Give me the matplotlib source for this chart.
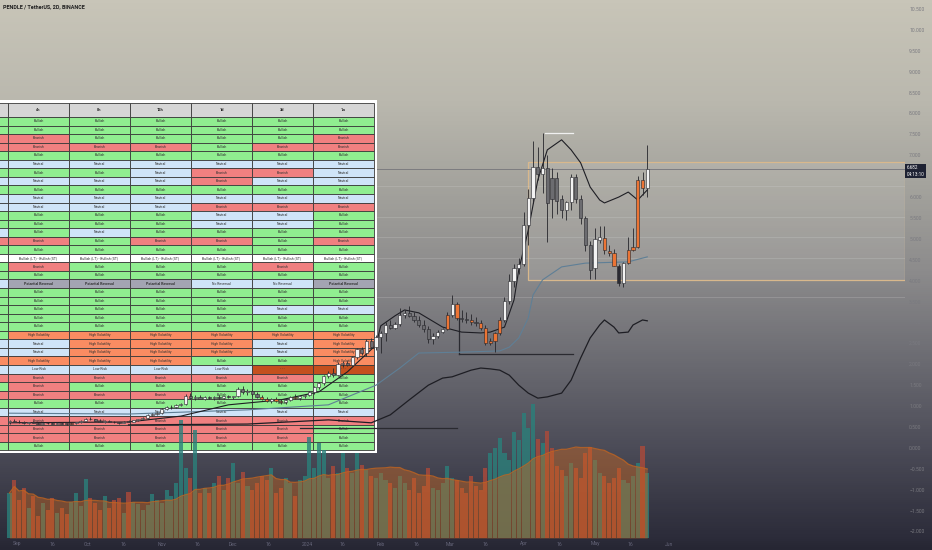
import numpy as np
import pandas as pd
import matplotlib
matplotlib.use("Agg")
import matplotlib.pyplot as plt
from matplotlib.colors import LinearSegmentedColormap
from matplotlib.patches import Rectangle

plt.rcParams['font.family'] = ['Roboto', 'DejaVu Sans']

# ---------------- data ----------------
title = "PENDLE / TetherUS, 2D, BINANCE"
last_price = 6.682
countdown = "04:13:10"

# 2D candles, day offsets from 2024-01-01
first_day = -125
opens = [.62, .64, .63, .61, .60, .62, .60, .58, .60, .59,
         .58, .60, .58, .57, .60, .61, .65, .70, .68, .65,
         .63, .64, .62, .61, .60, .63, .62, .66, .69, .72,
         .78, .82, .84, .93, .97, .99, 1.03, 1.05, 1.25, 1.20,
         1.22, 1.18, 1.21, 1.19, 1.22, 1.20, 1.23, 1.21, 1.24, 1.40,
         1.33, 1.35, 1.28, 1.22, 1.16, 1.12, 1.17, 1.13, 1.10, 1.15,
         1.22, 1.19, 1.24, 1.27, 1.34, 1.45, 1.55, 1.72, 1.80, 1.75,
         2.00, 2.02, 1.98, 2.17, 2.36, 2.26, 2.55, 2.42, 2.65, 2.75,
         2.93, 2.88, 2.97, 3.18, 3.22, 3.15, 3.05, 2.95, 2.85, 2.60,
         2.68, 2.78, 2.84, 3.18, 3.45, 3.10, 3.09, 3.06, 3.00, 2.98,
         2.87, 2.52, 2.55, 2.75, 3.05, 3.52, 4.00, 4.30, 4.40, 5.33,
         5.98, 6.72, 6.55, 6.70, 6.45, 6.45, 5.95, 5.68, 5.88, 6.48,
         5.95, 5.50, 4.85, 4.30, 4.98, 5.02, 4.72, 4.67, 4.35, 3.95,
         4.42, 4.73, 4.80, 6.41, 6.22]
highs = [.66, .68, .66, .64, .63, .64, .62, .62, .63, .61,
         .61, .62, .60, .61, .62, .66, .72, .73, .70, .68,
         .66, .67, .65, .63, .64, .66, .67, .70, .74, .80,
         .84, .86, .95, 1.00, 1.02, 1.05, 1.08, 1.30, 1.32, 1.27,
         1.26, 1.24, 1.25, 1.24, 1.26, 1.25, 1.27, 1.25, 1.45, 1.48,
         1.40, 1.38, 1.33, 1.27, 1.22, 1.20, 1.22, 1.18, 1.17, 1.24,
         1.28, 1.25, 1.30, 1.36, 1.48, 1.58, 1.75, 1.85, 1.92, 2.05,
         2.08, 2.08, 2.20, 2.40, 2.42, 2.60, 2.62, 2.70, 2.80, 3.00,
         3.05, 3.00, 3.35, 3.30, 3.40, 3.25, 3.15, 3.05, 2.92, 2.75,
         2.82, 2.88, 3.25, 3.65, 3.50, 3.30, 3.25, 3.20, 3.12, 3.05,
         2.95, 2.62, 2.78, 3.12, 3.62, 4.15, 4.40, 4.55, 5.65, 6.20,
         7.35, 7.20, 7.53, 7.00, 6.70, 6.60, 6.05, 5.90, 6.55, 6.55,
         6.05, 5.55, 4.95, 5.25, 5.30, 5.30, 4.85, 4.75, 4.40, 4.45,
         5.05, 5.25, 6.50, 6.60, 7.25]
lows = [.58, .61, .60, .58, .57, .59, .57, .56, .58, .56,
        .56, .57, .55, .56, .58, .60, .64, .66, .64, .62,
        .60, .61, .59, .58, .59, .61, .61, .64, .67, .70,
        .76, .79, .82, .90, .94, .96, 1.00, 1.03, 1.17, 1.15,
        1.16, 1.14, 1.17, 1.15, 1.18, 1.16, 1.19, 1.17, 1.22, 1.30,
        1.26, 1.25, 1.20, 1.14, 1.10, 1.08, 1.10, 1.06, 1.06, 1.12,
        1.16, 1.14, 1.20, 1.24, 1.30, 1.42, 1.50, 1.66, 1.70, 1.72,
        1.93, 1.95, 1.95, 2.12, 2.22, 2.20, 2.38, 2.35, 2.28, 2.55,
        2.85, 2.85, 2.92, 3.10, 3.12, 3.02, 2.90, 2.78, 2.52, 2.48,
        2.62, 2.74, 2.82, 3.12, 3.05, 3.00, 2.98, 2.95, 2.92, 2.82,
        2.45, 2.45, 2.30, 2.70, 3.00, 3.45, 3.85, 4.15, 4.35, 4.85,
        5.85, 6.40, 6.10, 4.93, 5.50, 5.60, 5.50, 5.45, 5.70, 5.85,
        5.35, 4.70, 4.05, 4.05, 4.90, 4.65, 4.60, 4.35, 3.88, 3.85,
        4.40, 4.70, 4.78, 6.05, 6.00]
closes = [.64, .63, .61, .60, .62, .60, .58, .60, .59, .58,
          .60, .58, .57, .60, .61, .65, .70, .68, .65, .63,
          .64, .62, .61, .60, .63, .62, .66, .69, .72, .78,
          .82, .84, .93, .97, .99, 1.03, 1.05, 1.25, 1.20, 1.22,
          1.18, 1.21, 1.19, 1.22, 1.20, 1.23, 1.21, 1.24, 1.40, 1.33,
          1.35, 1.28, 1.22, 1.16, 1.12, 1.17, 1.13, 1.10, 1.15, 1.22,
          1.19, 1.24, 1.27, 1.34, 1.45, 1.55, 1.72, 1.80, 1.75, 2.00,
          2.02, 1.98, 2.17, 2.36, 2.26, 2.55, 2.42, 2.65, 2.75, 2.93,
          2.88, 2.97, 3.18, 3.22, 3.15, 3.05, 2.95, 2.85, 2.60, 2.68,
          2.78, 2.84, 3.18, 3.45, 3.10, 3.09, 3.06, 3.00, 2.98, 2.87,
          2.52, 2.55, 2.75, 3.05, 3.52, 4.00, 4.30, 4.40, 5.33, 5.98,
          6.72, 6.55, 6.70, 5.85, 5.95, 5.90, 5.70, 5.88, 6.48, 5.95,
          5.50, 4.85, 4.25, 5.00, 5.05, 4.73, 4.67, 4.35, 3.95, 4.42,
          4.73, 4.80, 6.41, 6.22, 6.68]
volumes = [45, 58, 38, 50, 30, 42, 22, 35, 28, 40,
           25, 30, 24, 36, 45, 32, 59, 40, 35, 28,
           42, 30, 38, 40, 25, 46, 36, 34, 28, 33,
           44, 38, 35, 48, 42, 55, 118, 70, 60, 108,
           45, 50, 45, 55, 62, 48, 60, 75, 55, 66,
           52, 48, 55, 62, 58, 70, 45, 50, 60, 55,
           42, 58, 62, 101, 70, 95, 88, 60, 72, 65,
           85, 70, 65, 85, 73, 68, 62, 60, 65, 58,
           55, 50, 62, 55, 48, 60, 45, 52, 70, 50,
           48, 55, 72, 60, 58, 50, 45, 62, 52, 48,
           70, 85, 90, 100, 85, 78, 106, 98, 125, 110,
           134, 99, 95, 107, 90, 72, 68, 62, 75, 70,
           60, 85, 91, 78, 65, 62, 55, 60, 70, 58,
           55, 62, 75, 92, 65]
orange_bars = [2, 8, 13, 22, 53, 54, 56, 57, 60, 92, 94, 97, 99, 100, 101,
               102, 103, 125, 126, 127, 130, 131, 132, 133]
black_bars = [128]

# indicator lines (bar index, price)
fast_idx = [0, 25, 36, 46, 57, 65, 71, 77, 78, 81, 83, 86, 91, 95, 99, 101,
            104, 106, 107, 109, 111, 113, 116, 118, 120, 122, 124, 125, 128, 130, 132, 134]
fast_val = [0.60, 0.62, 0.76, 1.03, 1.15, 1.34, 1.82, 2.46, 2.92, 3.16, 3.30, 3.23,
            2.89, 2.77, 2.75, 2.77, 2.89, 3.54, 4.26, 5.21, 6.41, 7.13, 7.37, 7.13,
            6.82, 6.24, 5.93, 5.86, 6.00, 6.12, 5.93, 6.17]
slow_idx = [0, 25, 50, 67, 77, 82, 86, 95, 103, 105, 107, 109, 110, 112, 116, 121, 130, 134]
slow_val = [0.83, 0.81, 0.91, 1.03, 1.50, 1.91, 2.27, 2.29, 2.32, 2.41, 2.63, 3.11,
            3.66, 4.02, 4.33, 4.42, 4.45, 4.57]
osc_idx = [25, 50, 67, 76, 80, 84, 88, 91, 93, 97, 99, 101, 103, 105, 107, 109, 111,
           113, 116, 118, 120, 122, 124, 125, 127, 128, 130, 131, 133, 134]
osc_val = [0.55, 0.57, 0.67, 0.60, 0.79, 1.15, 1.50, 1.67, 1.70, 1.86, 1.91, 1.89,
           1.86, 1.74, 1.50, 1.31, 1.19, 1.22, 1.31, 1.62, 2.15, 2.63, 2.94, 3.06,
           2.89, 2.75, 2.77, 2.94, 3.06, 3.04]

# drawn objects: range box, segments (start bar, end bar, price), faint levels
box_start, box_low, box_high = 109, 4.02, 6.84
dark_segments = [(61, 94, 0.48), (94.5, 118.3, 2.25)]
pivot_vertical = (94.5, 2.25, 3.11)
white_segment = (112.6, 118.3, 7.53)
faint_levels = [6.27, 5.52, 5.05, 4.54, 3.61]

price_ticks = np.arange(-2.0, 10.51, 0.5)
time_ticks = [-122, -107, -92, -77, -61, -46, -31, -16, 0, 15, 31, 46, 60, 75,
              91, 106, 121, 136, 152]
time_labels = ["Sep", "16", "Oct", "16", "Nov", "16", "Dec", "16", "2024", "16",
               "Feb", "16", "Mar", "16", "Apr", "16", "May", "16", "Jun"]

# trend table (first column is cut off at the left edge, only its colours show)
tf_labels = ["1h", "4h", "8h", "12h", "1d", "3d", "1w"]
table_rows = ["UUUUUUU", "UUUUUUU", "DDUUUUD", "DDDDUDD", "UUUUUUU", "NNNNNNN",
              "UUUNDDN", "NNNNDNN", "UUUUUUU", "NNNNNNN", "NNNNDDD", "UUUUNNU",
              "UUUUNNU", "NUNUUUU", "DDUDDUD", "UUUUUUU", "TTTTTTT", "UDUUUDU",
              "UUUUUUU", "RPPPRRP", "UUUUUUU", "UUUUUUU", "UUUUUNN", "UUUUUUU",
              "UUUUUUU", "UHHHHHH", "NNHHHNH", "NNHHHNH", "HHHHUUH", "LLLLLXX",
              "DDDDDDU", "UDUUUUU", "DDDDUUU", "UUUUUUU", "NNNNNNN", "DDDDDDD",
              "DDDDDDU", "DDDDDDU", "UUUUUUU"]
status_text = {'U': 'Bullish', 'D': 'Bearish', 'N': 'Neutral', 'H': 'High Volatility',
               'L': 'Low Risk', 'P': 'Potential Reversal', 'R': 'No Reversal',
               'T': 'Bullish (LT) - Bullish (ST)', 'X': '- - -'}
status_color = {'U': '#90ee90', 'D': '#f08080', 'N': '#cfe4f8', 'H': '#fa8c62',
                'L': '#cfe4f8', 'P': '#a3a4b2', 'R': '#cfe4f8', 'T': '#ffffff',
                'X': '#c4501e'}

# ---------------- figure ----------------
W, H = 932, 550
fig = plt.figure(figsize=(W / 100, H / 100), dpi=100)

bg = fig.add_axes([0, 0, 1, 1], zorder=0)
stops = [(0, '#c8c5b8'), (100, '#bab8ae'), (200, '#a09f9a'), (275, '#8b8a8b'),
         (350, '#6f6f75'), (450, '#4b4b57'), (538, '#2c2c3a'), (550, '#262633')]
cmap = LinearSegmentedColormap.from_list('bg', [(y / H, c) for y, c in stops])
bg.imshow(np.linspace(0, 1, H).reshape(-1, 1), cmap=cmap, aspect='auto',
          extent=(0, 1, 0, 1), origin='upper')
bg.axis('off')

# table layer (pixel coordinates)
tl = fig.add_axes([0, 0, 1, 1], zorder=1)
tl.set_xlim(0, W)
tl.set_ylim(H, 0)
tl.axis('off')
tl.patch.set_alpha(0)

col_w, tbl_left = 61.0, 8.0
head_top, head_h, row_h = 103.0, 14.0, 8.55
tbl_bottom = head_top + head_h + len(table_rows) * row_h
tbl_right = tbl_left + 6 * col_w
tl.add_patch(Rectangle((-60, head_top - 3), tbl_right + 63, tbl_bottom - head_top + 6,
                       fc='white', ec='none'))
for j, lab in enumerate(tf_labels):
    cx = tbl_left + (j - 1) * col_w
    visible = j > 0
    tl.add_patch(Rectangle((cx, head_top), col_w, head_h, fc='#d6d6d6', ec='#3a3a3a', lw=0.6))
    if visible:
        tl.text(cx + col_w / 2, head_top + head_h / 2, lab, ha='center', va='center',
                fontsize=2.8, weight='bold', color='#222222')
    for r, row in enumerate(table_rows):
        code = row[j]
        cy = head_top + head_h + r * row_h
        tl.add_patch(Rectangle((cx, cy), col_w, row_h, fc=status_color[code],
                               ec='#3a3a3a', lw=0.6))
        if visible:
            tl.text(cx + col_w / 2, cy + row_h / 2, status_text[code], ha='center',
                    va='center', fontsize=2.5, color='#333333',
                    weight='bold' if code == 'P' else 'normal')

# price / volume axes
plot_w = 905 / W
xlim = (-129.0, 251.3)
ax_v = fig.add_axes([0, 0, plot_w, 1], zorder=2)
ax = fig.add_axes([0, 0, plot_w, 1], zorder=3)
for a in (ax_v, ax):
    a.patch.set_alpha(0)
    a.set_xlim(*xlim)
    for s in a.spines.values():
        s.set_visible(False)
    a.set_xticks([])
ax_v.set_yticks([])
ax_v.set_ylim(-12, 538)
ax.set_ylim(-2.443, 10.715)

o, h, l, c = (np.array(v, dtype=float) for v in (opens, highs, lows, closes))
days = first_day + 2 * np.arange(len(o))
up = c >= o

# volume
vol = np.array(volumes, dtype=float)
vol_ma = pd.Series(vol).rolling(20, min_periods=1).mean().values
ax_v.bar(days, vol, width=1.7, color=np.where(up, '#2b807b', '#ad4a3a'), alpha=0.8, lw=0)
ax_v.fill_between(days, 0, vol_ma, color='#d2691e', alpha=0.42, lw=0)
ax_v.plot(days, vol_ma, color='#c4651f', lw=0.9, alpha=0.8)

# range box and levels
x_right = xlim[1]
tbl_frac = (tbl_right + 3) / 905
bx = days[box_start]
ax.add_patch(Rectangle((bx, box_low), x_right - bx, box_high - box_low,
                       fc='#efebe0', alpha=0.13, ec='none', zorder=1))
ax.add_patch(Rectangle((bx, box_low), x_right - bx, box_high - box_low,
                       fc='none', ec='#d9b88c', lw=0.9, zorder=1))
for lv in faint_levels:
    ax.axhline(lv, xmin=tbl_frac, color='#d8d8d8', lw=0.5, alpha=0.3, zorder=1)
ax.axhline(last_price, xmin=tbl_frac, color='#7c7c80', lw=0.7, zorder=1)

bar_day = lambda i: first_day + 2 * np.asarray(i, dtype=float)
for s, e, p in dark_segments:
    ax.plot(bar_day([s, e]), [p, p], color='#2a2a30', lw=0.9, zorder=2)
vi, v0, v1 = pivot_vertical
ax.plot(bar_day([vi, vi]), [v0, v1], color='#2a2a30', lw=0.9, zorder=2)
ws, we, wp = white_segment
ax.plot(bar_day([ws, we]), [wp, wp], color='#f0f0f0', lw=0.9, zorder=2)

# indicator lines
ax.plot(bar_day(slow_idx), slow_val, color='#5f7f96', lw=0.8, zorder=2)
ax.plot(bar_day(osc_idx), osc_val, color='#1e1e24', lw=0.9, zorder=2)
ax.plot(bar_day(fast_idx), fast_val, color='#1e1e24', lw=0.8, zorder=2)

# candles
body_col = np.where(up, '#f3f3f3', '#6c6c70').astype(object)
body_col[orange_bars] = '#ec7434'
body_col[black_bars] = '#2a2a32'
ax.vlines(days, l, h, color='#26262b', lw=0.6, zorder=3)
ax.bar(days, np.maximum(np.abs(c - o), 0.015), bottom=np.minimum(o, c), width=1.35,
       color=list(body_col), edgecolor='#26262b', linewidth=0.4, zorder=4)

# right price scale (the label under the last-price tag is hidden, as on the chart)
ax.yaxis.tick_right()
ax.set_yticks(price_ticks)
ax.set_yticklabels(["" if abs(v - last_price) < 0.25 else f"{v:.3f}".replace('-', '\u2212')
                    for v in price_ticks])
ax.tick_params(axis='y', length=0, pad=3, labelsize=3.6, labelcolor='#7a7a80')

ax.text(1.002, last_price - 0.06, f"{last_price:.3f}\n{countdown}",
        transform=ax.get_yaxis_transform(), ha='left', va='center', fontsize=3.3,
        color='white', linespacing=1.4,
        bbox=dict(boxstyle='square,pad=0.35', fc='#1e2233', ec='none'), zorder=6)

# time scale
for d, lab in zip(time_ticks, time_labels):
    ax.text(d, 6 / H, lab, transform=ax.get_xaxis_transform(), ha='center', va='center',
            fontsize=3.6, color='#66667a')

fig.text(3 / W, 1 - 7 / H, title, fontsize=3.9, weight='bold', color='#1e1e1e',
         ha='left', va='center')

fig.savefig('out.png', dpi=100)
